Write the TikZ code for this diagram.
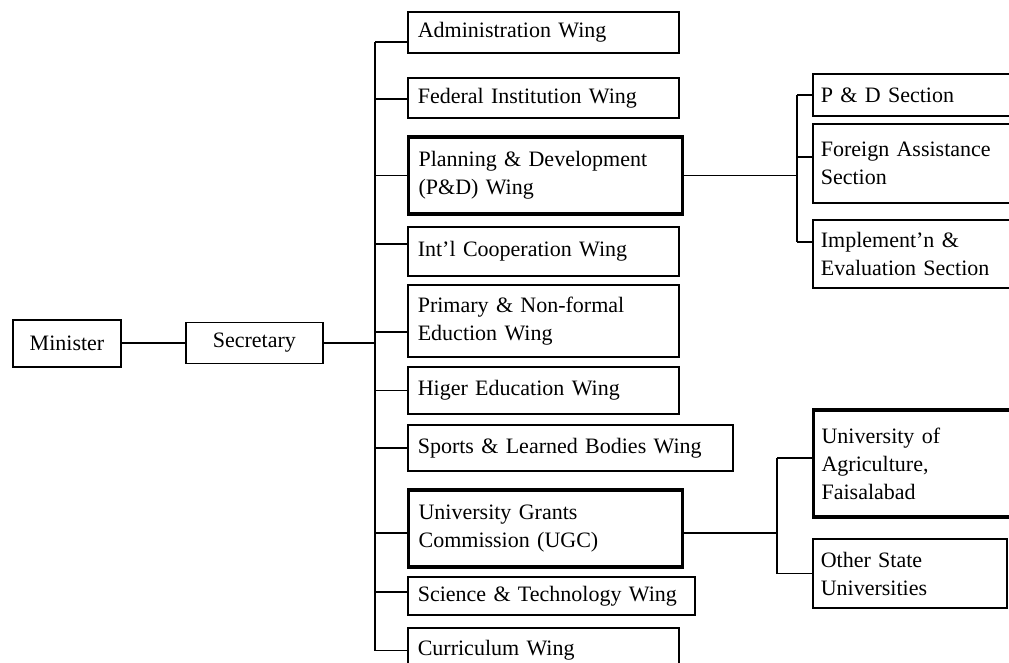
\documentclass[tikz,border=0pt]{standalone}
\usepackage{fontspec}
\setmainfont{Liberation Serif}
\begin{document}
\begin{tikzpicture}[x=1bp,y=-1bp,
  box/.style={draw, line width=1.6bp, inner xsep=10bp, inner ysep=0pt,
    align=left, anchor=west, font=\fontsize{22bp}{28bp}\selectfont},
  sub/.style={box, inner xsep=8bp, text width=202bp},
  heavy/.style={line width=3.2bp},
  link/.style={line width=1.5bp},
  spine/.style={line width=2.4bp}]
\useasboundingbox (0,0) rectangle (1009,663);
\clip (0,0) rectangle (1009,663);

% top of the hierarchy
\node[box, line width=2bp, align=center, text width=88bp, minimum height=47bp] (min) at (12,343) {Minister};
\node[box, align=center, text width=117bp, minimum height=41bp] (sec) at (185,343) {Secretary};

% wings
\node[box, text width=251bp, minimum height=41bp] (adm) at (407,32.5) {Administration Wing};
\node[box, text width=251bp, minimum height=40bp] (fed) at (407,98) {Federal Institution Wing};
\node[box, heavy, text width=254bp, minimum height=77bp] (pnd) at (407,175.5) {Planning \& Development\\(P\&D) Wing};
\node[box, text width=251bp, minimum height=49bp] (intl) at (407,251.5) {Int’l Cooperation Wing};
\node[box, text width=251bp, minimum height=72bp] (prim) at (407,321) {Primary \& Non-formal\\Eduction Wing};
\node[box, text width=251bp, minimum height=47bp] (high) at (407,390.5) {Higer Education Wing};
\node[box, text width=305bp, minimum height=46bp] (sport) at (407,448) {Sports \& Learned Bodies Wing};
\node[box, heavy, text width=254bp, minimum height=77bp] (ugc) at (407,528.5) {University Grants\\Commission (UGC)};
\node[box, text width=267bp, minimum height=38bp] (sci) at (407,596) {Science \& Technology Wing};
\node[box, text width=251bp, minimum height=45bp] (cur) at (407,650.5) {Curriculum Wing};

% sections of the P&D wing
\node[sub, minimum height=42bp] (pds) at (812,95) {P \& D Section};
\node[sub, minimum height=79bp] (fas) at (812,163.5) {Foreign Assistance\\Section};
\node[sub, minimum height=68bp] (ies) at (812,254) {Implement’n \&\\Evaluation Section};

% universities under the UGC
\node[sub, heavy, minimum height=107bp] (uoa) at (812,463.5) {University of\\Agriculture,\\Faisalabad};
\node[sub, text width=178bp, minimum height=69bp] (osu) at (812,573.5) {Other State\\Universities};

% connectors: minister -> secretary -> wings
\coordinate (sp) at ([xshift=-32bp]adm.west);
\draw[link] (min.east) -- (sec.west);
\draw[link] (sec.east) -- (sec.east -| sp);
\draw[spine] ([xshift=-32bp,yshift=-9.5bp]adm.west) -- ([xshift=-32bp]cur.west);
\foreach \n/\d in {adm/-9.5, fed/-1, pnd/0, intl/7.5, prim/-11, high/0, sport/0, ugc/-4.5, sci/4, cur/0}
  \draw[link] ([yshift=\d bp]\n.west) -- ++(-32,0);

% connectors: P&D wing -> sections
\coordinate (pdx) at ([xshift=-15bp]pds.west);
\draw[spine] ([xshift=-15bp]pds.west) -- ([xshift=-15bp,yshift=12bp]ies.west);
\foreach \n/\d in {pds/0, fas/6.5, ies/12}
  \draw[link] ([yshift=\d bp]\n.west) -- ++(-15,0);
\draw[link] (pnd.east) -- (pnd.east -| pdx);

% connectors: UGC -> universities
\coordinate (ux) at ([xshift=-35bp]uoa.west);
\coordinate (ugcE) at ([yshift=-4.5bp]ugc.east);
\draw[spine] ([xshift=-35bp,yshift=5.5bp]uoa.west) -- ([xshift=-35bp]osu.west);
\draw[link] ([yshift=5.5bp]uoa.west) -- ++(-35,0);
\draw[link] (osu.west) -- ++(-35,0);
\draw[link] (ugcE) -- (ugcE -| ux);
\end{tikzpicture}
\end{document}
